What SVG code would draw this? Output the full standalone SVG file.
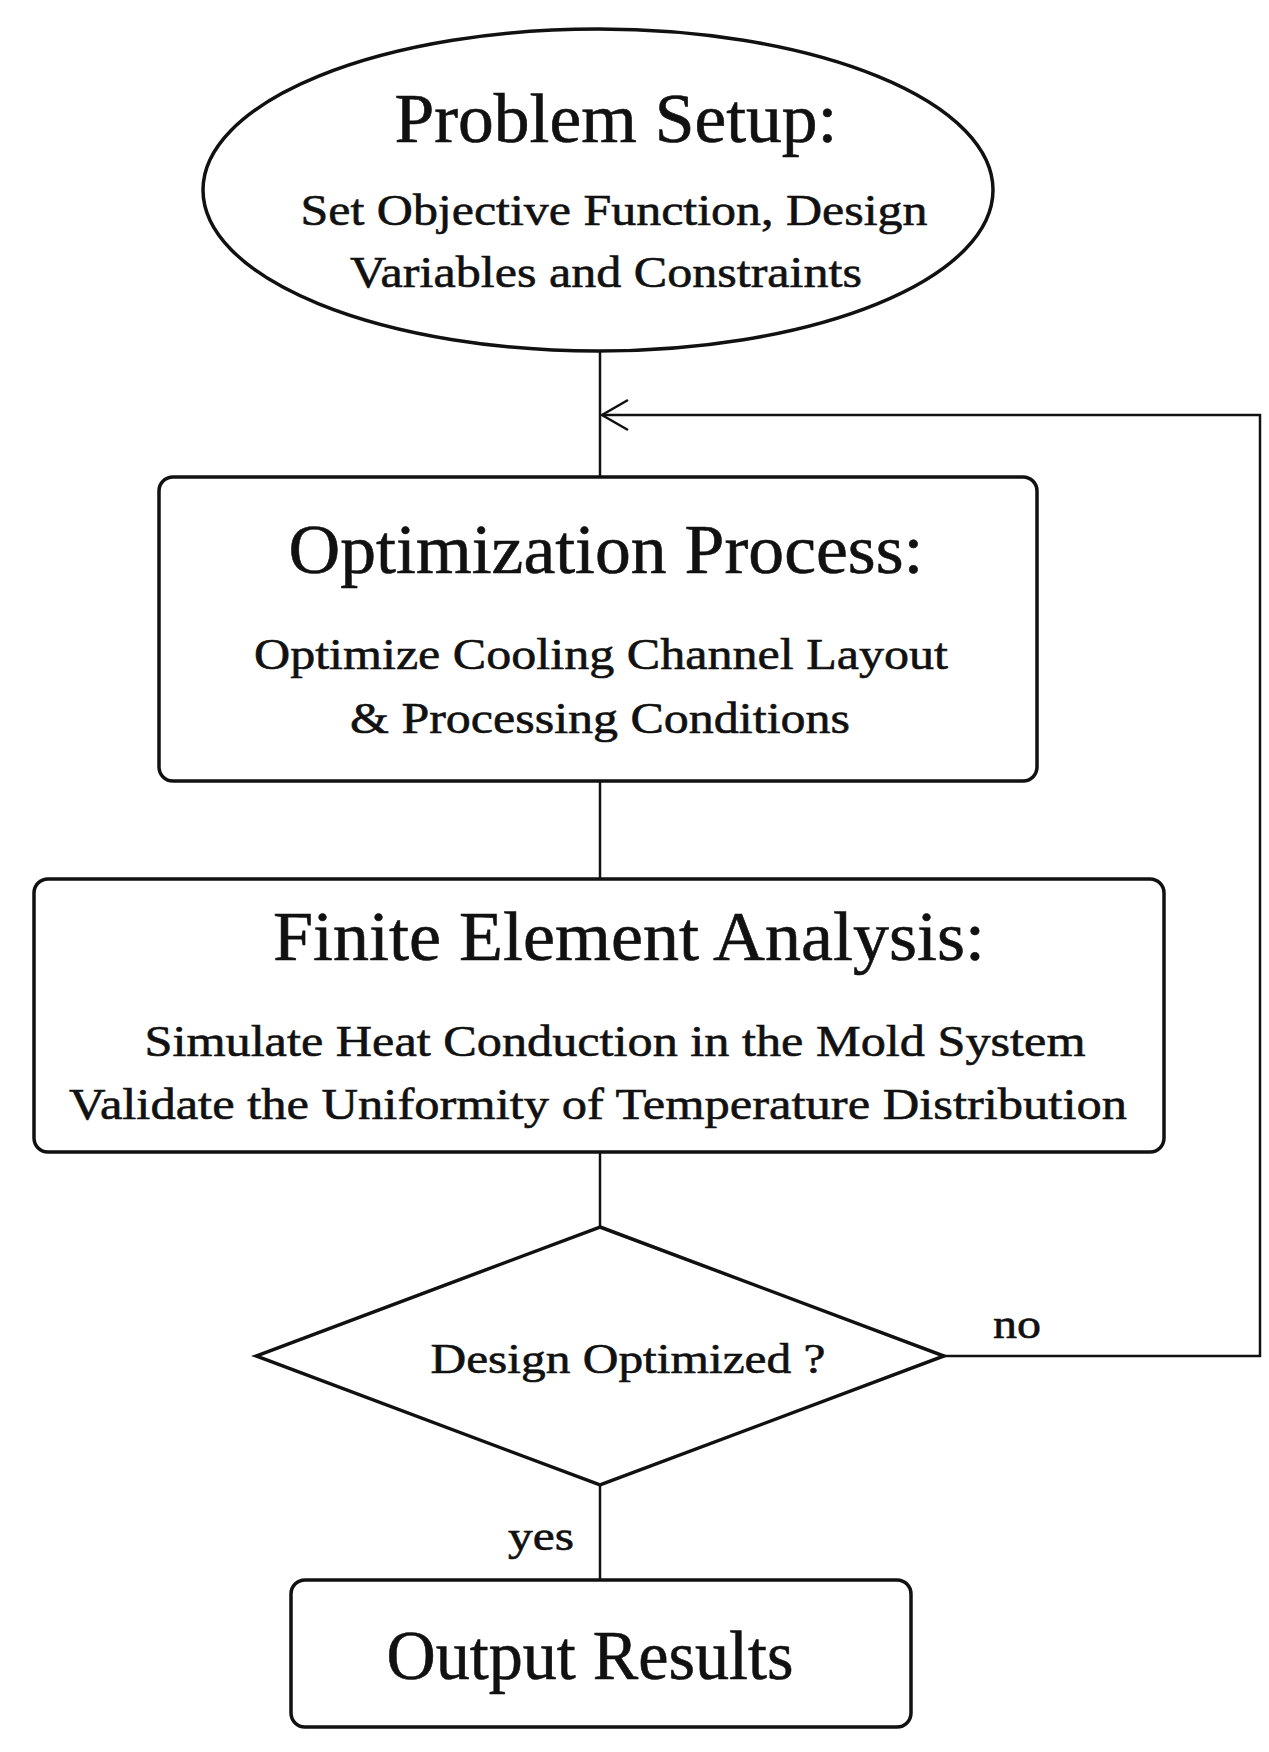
<svg xmlns="http://www.w3.org/2000/svg" width="1269" height="1752" viewBox="0 0 1269 1752">
<style>
.shape{fill:#fff;stroke:#111;stroke-width:3.5}
.conn{fill:none;stroke:#111;stroke-width:2.5}
text{font-family:"Liberation Serif","Times New Roman",serif;fill:#111;text-anchor:middle;stroke:#111;stroke-width:0.6}
.h{font-size:70px}
.s{font-size:45px}
.l{font-size:42px}
</style>
<rect width="1269" height="1752" fill="#fff"/>
<g id="connectors">
<line class="conn" x1="600" y1="352" x2="600" y2="477"/>
<polyline class="conn" points="944,1356 1260,1356 1260,415 602,415"/>
<polyline class="conn" points="628,400 602,415 628,430"/>
<line class="conn" x1="600" y1="781" x2="600" y2="879"/>
<line class="conn" x1="600" y1="1152" x2="600" y2="1227"/>
<line class="conn" x1="600" y1="1485" x2="600" y2="1580"/>
<text class="l" x="1017" y="1338" textLength="48" lengthAdjust="spacingAndGlyphs">no</text>
<text class="l" x="541" y="1550" textLength="66" lengthAdjust="spacingAndGlyphs">yes</text>
</g>
<g id="problem-setup">
<ellipse class="shape" cx="598" cy="190" rx="395" ry="161"/>
<text class="h" x="616" y="142" textLength="443" lengthAdjust="spacingAndGlyphs">Problem Setup:</text>
<text class="s" x="614" y="225" textLength="627" lengthAdjust="spacingAndGlyphs">Set Objective Function, Design</text>
<text class="s" x="606" y="287" textLength="512" lengthAdjust="spacingAndGlyphs">Variables and Constraints</text>
</g>
<g id="optimization">
<rect class="shape" x="159" y="477" width="878" height="304" rx="14"/>
<text class="h" x="606" y="573" textLength="635" lengthAdjust="spacingAndGlyphs">Optimization Process:</text>
<text class="s" x="601" y="669" textLength="694" lengthAdjust="spacingAndGlyphs">Optimize Cooling Channel Layout</text>
<text class="s" x="600" y="733" textLength="500" lengthAdjust="spacingAndGlyphs">&amp; Processing Conditions</text>
</g>
<g id="fea">
<rect class="shape" x="34" y="879" width="1130" height="273" rx="14"/>
<text class="h" x="629" y="960" textLength="712" lengthAdjust="spacingAndGlyphs">Finite Element Analysis:</text>
<text class="s" x="615" y="1056" textLength="941" lengthAdjust="spacingAndGlyphs">Simulate Heat Conduction in the Mold System</text>
<text class="s" x="598" y="1119" textLength="1058" lengthAdjust="spacingAndGlyphs">Validate the Uniformity of Temperature Distribution</text>
</g>
<g id="decision">
<polygon class="shape" points="600,1227 944,1356 600,1485 256,1356"/>
<text class="l" x="628" y="1373" textLength="395" lengthAdjust="spacingAndGlyphs">Design Optimized ?</text>
</g>
<g id="output">
<rect class="shape" x="291" y="1580" width="620" height="147" rx="14"/>
<text class="h" x="590" y="1679" textLength="407" lengthAdjust="spacingAndGlyphs">Output Results</text>
</g>
</svg>
